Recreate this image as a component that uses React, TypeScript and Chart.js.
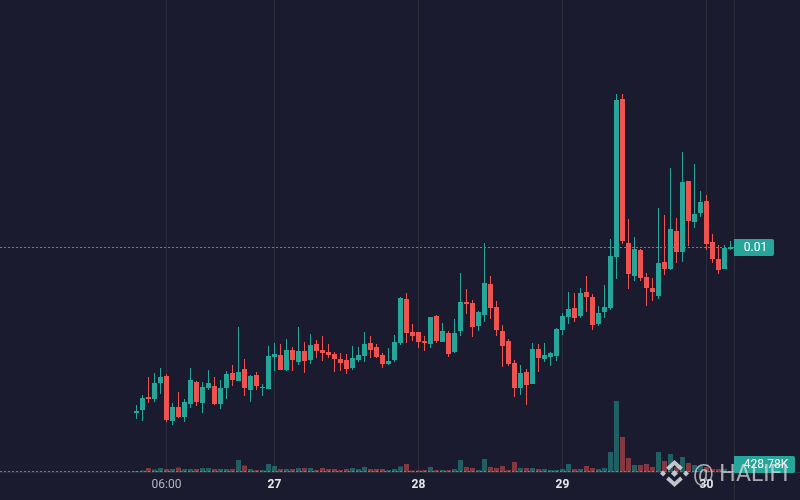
import React, { useEffect, useRef } from "react";
import { Chart, registerables } from "chart.js";

Chart.register(...registerables);

// Prices in units of 0.00001
const highs = [685,705,741,749,759,747,689,711,697,759,733,731,755,741,735,753,765,841,777,745,751,727,803,809,807,817,801,841,811,827,815,823,807,791,789,787,803,801,831,823,807,789,799,825,901,909,847,831,823,861,865,849,833,857,949,917,895,873,1009,943,893,845,817,775,765,757,809,807,809,791,839,869,911,909,919,943,907,883,925,1017,1307,1307,1057,1021,997,949,939,1079,1065,1159,1059,1191,1133,1167,1113,1105,1027,1005,1005,1013];
const lows = [657,653,689,691,707,651,645,659,651,679,683,669,715,685,677,697,723,733,703,691,715,703,717,753,755,753,753,765,749,767,779,773,779,751,753,747,755,771,771,779,779,759,765,771,805,809,813,799,793,799,809,811,781,789,823,867,821,833,851,857,823,761,763,701,705,685,727,751,771,763,773,825,847,851,859,871,835,843,859,875,937,1007,917,933,933,883,893,897,945,955,969,971,1003,1039,1061,995,969,947,957,995];
const opens = [669,675,701,697,729,743,653,681,661,687,731,689,719,723,687,719,749,733,757,715,745,719,717,781,785,755,795,771,793,775,807,795,791,787,777,775,759,775,783,809,801,785,767,775,809,897,831,831,813,807,863,811,829,791,833,891,889,843,865,927,881,833,813,769,719,751,727,797,777,781,783,835,861,879,863,911,901,847,871,879,981,1297,1009,943,995,941,919,903,971,957,1033,991,1133,1051,1069,1093,1011,977,957,997];
const closes = [673,699,697,729,741,655,681,661,691,735,691,721,729,687,719,747,735,751,719,743,723,721,783,787,755,795,775,793,773,805,793,789,785,777,769,757,779,785,807,795,781,767,773,811,899,829,823,811,809,861,813,833,787,829,891,887,841,871,929,879,835,803,767,719,749,725,797,779,785,789,837,863,877,859,909,901,845,869,881,983,1295,1013,947,997,939,919,911,969,957,1037,991,1131,1053,1067,1091,1007,977,955,999,1001];
// Volume in thousands
const volumes = [400,600,1600,1000,1600,1200,1200,1800,1200,1200,1200,1600,1600,1200,1200,1200,1200,4800,2600,1200,800,800,3200,2400,1200,1200,1200,1600,1600,1600,800,1600,1200,1200,800,1200,1600,1200,2000,1200,1200,1200,800,1200,2200,3200,600,600,800,2000,800,800,800,1200,4800,2000,1600,800,5200,2000,1600,2400,800,4000,1600,1600,1600,1200,1200,800,800,1200,3200,1200,1200,2400,1600,1200,1600,8000,28400,14000,5600,2800,2800,3200,2000,8000,4400,7200,2000,6000,3600,2800,2400,2000,1200,1200,1200,428.78];
const tickIndices = [5, 23, 47, 71, 95];
const tickLabels = ["06:00", "27", "28", "29", "30"];
const priceLabel = "0.01";
const volumeLabel = "428.78K";
const watermark = "@ HALIFI";

const UP = "#26a69a";
const DOWN = "#ef5350";
const BG = "#1a1b2e";
const indices = opens.map((_, i) => i);
const colorOf = (i: number) => (closes[i] >= opens[i] ? UP : DOWN);

const overlay = {
  id: "overlay",
  afterDraw(chart: any) {
    const { ctx, chartArea: a, scales } = chart;
    const y = Math.floor(scales.y.getPixelForValue(1000));
    const base = Math.round(scales.vol.getPixelForValue(0));
    ctx.save();
    ctx.strokeStyle = "#2a2e39";
    ctx.lineWidth = 1;
    ctx.beginPath();
    ctx.moveTo(a.right + 0.5, 0);
    ctx.lineTo(a.right + 0.5, 500);
    ctx.moveTo(0, base + 0.5);
    ctx.lineTo(800, base + 0.5);
    ctx.stroke();
    ctx.strokeStyle = UP;
    ctx.setLineDash([2, 2]);
    ctx.beginPath();
    ctx.moveTo(0, y + 0.5);
    ctx.lineTo(a.right, y + 0.5);
    ctx.moveTo(0, base - 0.5);
    ctx.lineTo(a.right, base - 0.5);
    ctx.stroke();
    ctx.setLineDash([]);

    const label = (text: string, top: number, w: number) => {
      ctx.fillStyle = UP;
      ctx.beginPath();
      ctx.roundRect(a.right, top, w, 17, [0, 2, 2, 0]);
      ctx.fill();
      ctx.fillStyle = "#ffffff";
      ctx.font = "12px Roboto";
      ctx.textAlign = "center";
      ctx.textBaseline = "middle";
      ctx.fillText(text, a.right + w / 2 + 1.5, top + 9);
    };
    label(priceLabel, y - 8, 40);
    label(volumeLabel, base - 16, 61);

    // Watermark
    const cx = 674.5, cy = 473.5;
    ctx.fillStyle = "rgba(225,225,230,0.85)";
    ctx.strokeStyle = "rgba(225,225,230,0.85)";
    const diamond = (dx: number, dy: number, r: number) => {
      ctx.beginPath();
      ctx.moveTo(cx + dx, cy + dy - r);
      ctx.lineTo(cx + dx + r, cy + dy);
      ctx.lineTo(cx + dx, cy + dy + r);
      ctx.lineTo(cx + dx - r, cy + dy);
      ctx.closePath();
      ctx.fill();
    };
    diamond(-11.5, 0, 3);
    diamond(11.5, 0, 3);
    diamond(0, 0, 3.6);
    ctx.lineWidth = 3.8;
    ctx.beginPath();
    ctx.moveTo(cx - 7, cy - 4.5);
    ctx.lineTo(cx, cy - 11);
    ctx.lineTo(cx + 7, cy - 4.5);
    ctx.moveTo(cx - 7, cy + 4.5);
    ctx.lineTo(cx, cy + 11);
    ctx.lineTo(cx + 7, cy + 4.5);
    ctx.stroke();
    ctx.font = "23px Roboto";
    ctx.textAlign = "left";
    ctx.textBaseline = "middle";
    ctx.fillStyle = "rgba(225,225,230,0.72)";
    ctx.fillText(watermark, 693, 475);
    ctx.restore();
  },
};

export default function App() {
  const ref = useRef<HTMLCanvasElement>(null);
  useEffect(() => {
    document.body.style.margin = "0";
    document.body.style.background = BG;
    const chart = new Chart(ref.current!, {
      type: "bar",
      data: {
        datasets: [
          {
            label: "Volume",
            yAxisID: "vol",
            data: indices.map((i) => ({ x: i, y: volumes[i] })),
            backgroundColor: indices.map((i) => (closes[i] >= opens[i] ? "rgba(38,166,154,0.5)" : "rgba(239,83,80,0.5)")),
            barThickness: 5,
            grouped: false,
            inflateAmount: 0,
          },
          {
            label: "Wick",
            yAxisID: "y",
            data: indices.map((i) => ({ x: i, y: [lows[i], highs[i]] })),
            backgroundColor: indices.map(colorOf),
            barThickness: 1,
            grouped: false,
            inflateAmount: 0,
          },
          {
            label: "Body",
            yAxisID: "y",
            data: indices.map((i) => ({ x: i, y: [opens[i], closes[i]] })),
            backgroundColor: indices.map(colorOf),
            barThickness: 5,
            grouped: false,
            inflateAmount: 0,
          },
        ] as any,
      },
      options: {
        animation: false,
        responsive: false,
        layout: { padding: { left: 0, right: 66, top: 0, bottom: 0 } },
        plugins: { legend: { display: false }, tooltip: { enabled: false } },
        scales: {
          x: {
            type: "linear",
            offset: false,
            min: -22.75,
            max: 99.58333333,
            afterBuildTicks(axis: any) {
              axis.ticks = tickIndices.map((value) => ({ value }));
            },
            afterFit(axis: any) {
              axis.height = 28;
            },
            grid: { color: "#2a2e39", drawTicks: false, offset: false },
            border: { display: false },
            ticks: {
              autoSkip: false,
              maxRotation: 0,
              padding: 6,
              color: (c: any) => (c.index === 0 ? "#b2b5be" : "#e8e8ec"),
              font: (c: any) => ({ family: "Roboto", size: 12, weight: c.index === 0 ? "normal" : "bold" }),
              callback: (_v: any, i: number) => tickLabels[i],
            },
          } as any,
          y: {
            display: false,
            min: 551,
            max: 1495,
            grid: { display: false },
          },
          vol: {
            display: false,
            min: 0,
            max: 188800,
            grid: { display: false },
          },
        },
      },
      plugins: [overlay],
    } as any);
    return () => chart.destroy();
  }, []);
  return (
    <div style={{ position: "fixed", left: 0, top: 0, width: 800, height: 500, background: BG }}>
      <canvas ref={ref} width={800} height={500} style={{ display: "block" }} />
    </div>
  );
}
